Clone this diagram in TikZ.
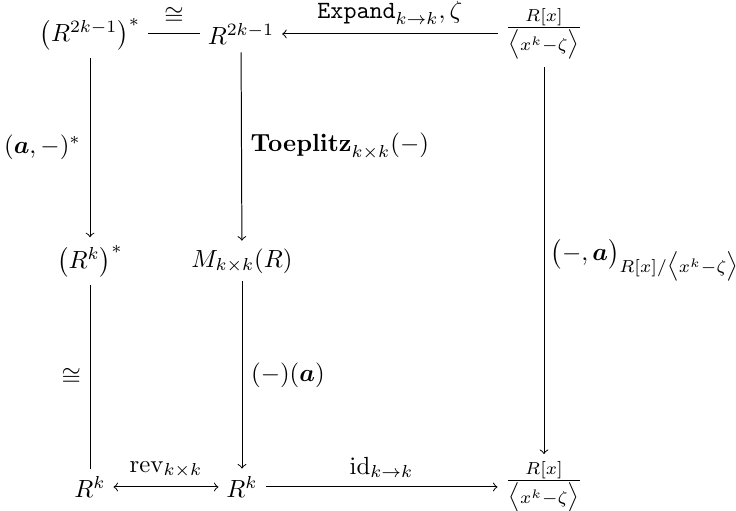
\documentclass[tikz,border=0pt]{standalone}
\usepackage{amsmath}
\begin{document}
\begin{tikzpicture}[x=0.4032pt,y=-0.4032pt,
  obj/.style={inner sep=3pt, anchor=center},
  lbl/.style={inner sep=3.5pt}]
\useasboundingbox (0,0) rectangle (736,511);
\node[obj] (tl) at (90,34) {$\left(R^{2k-1}\right)^*$};
\node[obj] (tm) at (241,34) {$R^{2k-1}$};
\node[obj] (tr) at (544,34) {$\frac{R[x]}{\bigl\langle x^k-\zeta\bigr\rangle}$};
\node[obj] (ml) at (90,261) {$\left(R^{k}\right)^*$};
\node[obj] (mm) at (242,261) {$M_{k\times k}(R)$};
\node[obj] (bl) at (90,487) {$R^k$};
\node[obj] (bm) at (242,487) {$R^k$};
\node[obj] (br) at (544,487) {$\frac{R[x]}{\bigl\langle x^k-\zeta\bigr\rangle}$};
\draw (tl) -- node[lbl,above]{$\cong$} (tm);
\draw[->] (tr) -- node[lbl,above]{$\mathtt{Expand}_{k\to k},\zeta$} (tm);
\draw[->] (tl) -- node[lbl,left]{$(\boldsymbol{a},-)^*$} (ml);
\draw[->] (tm) -- node[lbl,right]{$\mathbf{Toeplitz}_{k\times k}(-)$} (mm);
\draw (ml) -- node[lbl,left]{$\cong$} (bl);
\draw[->] (mm) -- node[lbl,right]{$(-)(\boldsymbol{a})$} (bm);
\draw[<->] (bl) -- node[lbl,above]{$\mathrm{rev}_{k\times k}$} (bm);
\draw[->] (bm) -- node[lbl,above]{$\mathrm{id}_{k\to k}$} (br);
\draw[->] (tr) -- node[lbl,right,inner sep=2.5pt]{$\bigl(-,\boldsymbol{a}\bigr)_{R[x]/\bigl\langle x^k-\zeta\bigr\rangle}$} (br);
\end{tikzpicture}
\end{document}
